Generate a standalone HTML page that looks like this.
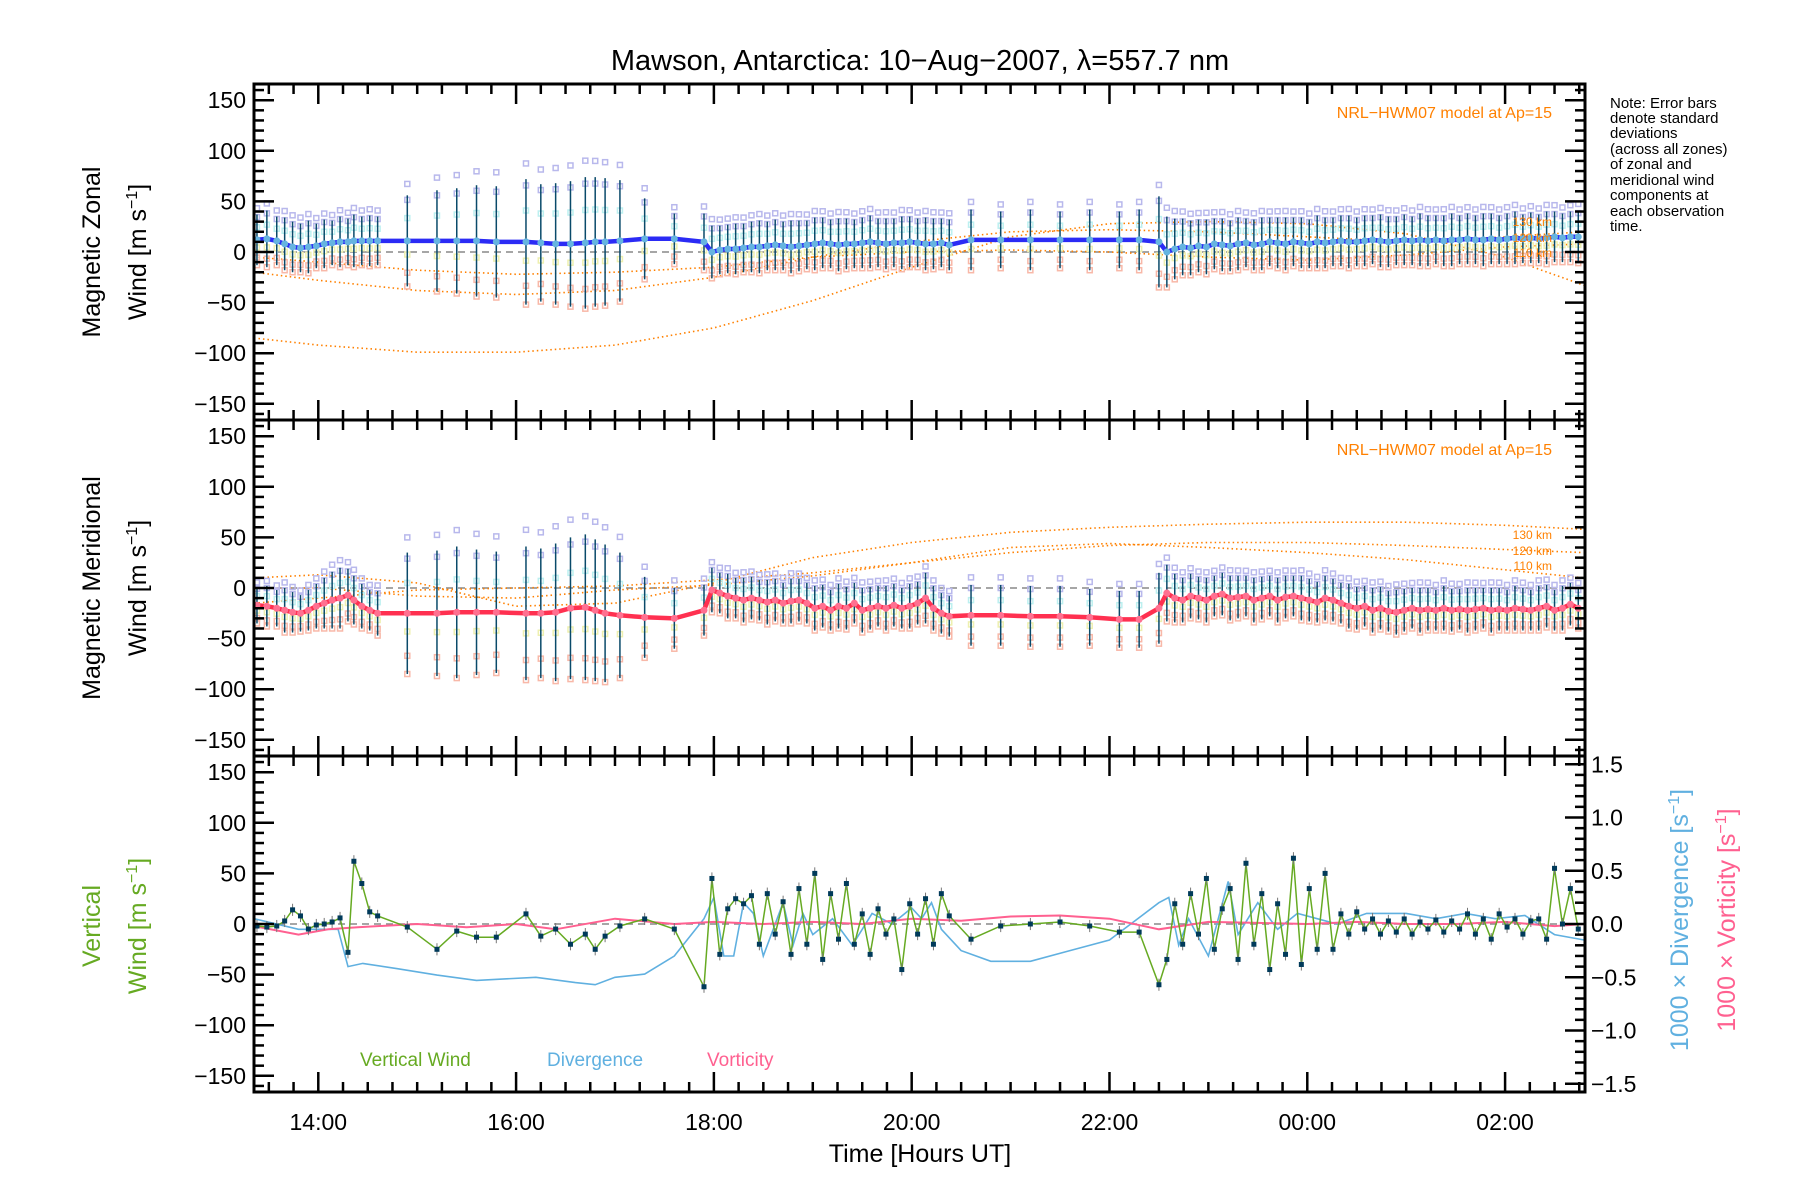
<!DOCTYPE html>
<html><head><meta charset="utf-8"><style>
html,body{margin:0;padding:0;background:#fff;}
svg{display:block;font-family:"Liberation Sans",sans-serif;}
</style></head><body>
<svg id="chart" width="1800" height="1200" viewBox="0 0 1800 1200">
<text x="920" y="70" font-size="29" text-anchor="middle">Mawson, Antarctica: 10−Aug−2007, λ=557.7 nm</text>
<g id="note" font-size="15">
<text x="1610" y="108">Note: Error bars</text><text x="1610" y="123">denote standard</text><text x="1610" y="138">deviations</text><text x="1610" y="154">(across all zones)</text><text x="1610" y="169">of zonal and</text><text x="1610" y="185">meridional wind</text><text x="1610" y="200">components at</text><text x="1610" y="216">each observation</text><text x="1610" y="231">time.</text>
</g>
</svg>
<script>
// ---------- data ----------
const times=[13.38,13.48,13.58,13.66,13.74,13.82,13.9,13.98,14.06,14.14,14.22,14.3,14.36,14.44,14.52,14.6,
14.9,15.2,15.4,15.6,15.8,16.1,16.25,16.4,16.55,16.7,16.8,16.9,17.05,17.3,17.6,
17.9,17.98,18.06,18.14,18.22,18.3,18.38,18.46,18.54,18.62,18.7,18.78,18.86,18.94,19.02,19.1,19.18,19.26,19.34,19.42,19.5,19.58,19.66,19.74,19.82,19.9,19.98,20.06,20.14,20.22,20.3,20.38,
20.6,20.9,21.2,21.5,21.8,22.1,22.3,
22.5,22.58,22.66,22.74,22.82,22.9,22.98,23.06,23.14,23.22,23.3,23.38,23.46,23.54,23.62,23.7,23.78,23.86,23.94,24.02,24.1,24.18,24.26,24.34,24.42,24.5,24.58,24.66,24.74,24.82,24.9,24.98,25.06,25.14,25.22,25.3,25.38,25.46,25.54,25.62,25.7,25.78,25.86,25.94,26.02,26.1,26.18,26.26,26.34,26.42,26.5,26.58,26.66,26.74];
const zonal=[12,13,11,8,5,4,5,6,8,9,10,10,11,11,11,11,
11,11,11,11,10,10,9,8,8,9,10,10,11,13,13,
10,0,2,3,3,4,5,5,6,7,6,5,6,7,8,9,8,7,8,8,9,10,9,8,9,9,10,9,8,8,9,7,
12,12,12,12,12,12,12,
10,0,3,5,4,6,5,8,7,6,8,9,7,8,10,9,8,10,9,8,10,9,10,11,10,10,11,12,11,10,11,12,11,12,11,12,11,12,12,13,12,12,13,12,13,14,13,14,13,14,15,14,15,15];
const zonalErr=[25,28,24,26,25,24,26,22,24,22,25,23,26,24,25,24,
45,50,52,55,55,62,58,60,62,65,64,63,60,40,25,
28,26,24,24,25,24,25,26,24,25,24,26,25,24,26,25,24,26,25,24,25,26,24,25,24,26,25,24,26,25,24,25,
30,28,30,28,30,28,30,
45,35,30,28,27,26,27,25,26,25,26,24,25,26,24,25,26,24,25,24,26,25,24,25,26,24,25,24,26,25,24,25,24,26,25,24,25,26,24,25,24,26,25,24,25,26,24,25,24,26,25,24,25,26];
const merid=[-17,-18,-20,-22,-24,-25,-22,-18,-15,-12,-10,-7,-12,-18,-22,-25,
-25,-25,-24,-24,-24,-25,-25,-24,-20,-19,-22,-25,-27,-29,-30,
-22,-2,-5,-8,-10,-12,-10,-12,-14,-12,-15,-13,-12,-15,-20,-18,-22,-18,-20,-15,-22,-20,-18,-20,-17,-20,-18,-15,-10,-20,-25,-28,
-27,-27,-28,-28,-29,-31,-31,
-20,-5,-10,-12,-8,-10,-12,-8,-6,-10,-9,-8,-12,-10,-8,-12,-9,-8,-10,-12,-14,-10,-12,-15,-18,-20,-18,-22,-20,-23,-24,-22,-20,-22,-21,-22,-20,-22,-21,-22,-21,-20,-22,-21,-22,-20,-21,-22,-20,-18,-22,-20,-16,-20];
const meridErr=[18,20,18,22,20,18,20,22,25,28,30,26,24,22,20,22,
60,62,65,62,60,66,64,68,70,72,70,68,62,40,30,
25,22,20,22,20,22,21,20,22,21,20,22,21,20,22,21,20,22,21,20,22,21,20,22,21,20,22,21,25,22,20,20,
30,30,30,30,28,28,28,
35,28,24,22,22,21,22,20,21,22,21,20,22,21,20,22,21,20,22,21,20,22,21,20,22,21,20,22,21,20,22,21,20,22,21,20,22,21,20,22,21,20,22,21,20,22,21,20,22,21,20,22,21,20];
const vert=[-2,-3,-2,3,14,8,-5,-1,0,2,6,-28,62,40,12,8,
-3,-25,-7,-13,-13,10,-12,-5,-20,-10,-25,-12,-2,5,-5,
-62,45,-30,15,25,20,28,-20,30,-10,22,-30,35,-20,50,-35,30,-15,40,-20,10,-30,15,-10,5,-45,20,-10,25,-20,30,8,
-15,-2,0,2,-2,-8,-8,
-60,-35,20,-20,30,-10,45,-25,15,35,-35,60,-20,30,-45,20,-30,65,-40,35,-25,50,-25,10,-10,12,-5,5,-10,3,-8,5,-10,2,-5,4,-8,3,-5,10,-10,5,-15,10,-3,5,-10,3,5,-15,55,0,35,-5];
const divHours=[13.35,13.8,14.2,14.3,14.45,14.8,15.2,15.6,16.2,16.6,16.8,17.0,17.3,17.6,17.9,18.0,18.1,18.2,18.3,18.4,18.5,18.6,18.7,18.8,18.9,19.0,19.2,19.4,19.6,19.8,20.0,20.1,20.2,20.3,20.5,20.8,21.2,21.6,22.0,22.5,22.6,22.7,22.8,23.0,23.2,23.3,23.5,23.7,23.9,24.1,24.3,24.6,25.0,25.3,25.6,25.9,26.2,26.5,26.8];
const divergence=[0.05,-0.05,-0.05,-0.4,-0.37,-0.42,-0.48,-0.53,-0.5,-0.55,-0.57,-0.5,-0.47,-0.3,0.05,0.25,-0.3,-0.3,0.2,0.1,-0.3,-0.05,0.2,-0.2,0.1,-0.1,0.05,-0.2,0.1,0.0,0.15,0.05,0.2,-0.05,-0.25,-0.35,-0.35,-0.25,-0.15,0.2,0.25,-0.2,0.05,-0.3,0.4,-0.1,0.2,-0.05,0.1,0.05,0.0,0.1,0.1,0.05,0.1,0.05,0.08,-0.1,-0.15];
const vortHours=[13.35,13.8,14.1,14.4,15,15.5,16,16.4,17,17.6,18.0,18.5,19,19.5,20,20.5,21,21.5,22,22.5,23,23.5,24,24.5,25,25.5,26,26.5,26.8];
const vorticity=[-0.02,-0.1,-0.05,-0.03,0.0,-0.03,0.0,-0.05,0.05,0.0,0.02,0.0,0.02,0.0,0.05,0.03,0.07,0.08,0.05,-0.05,0.02,0.01,0.0,0.02,0.0,0.0,0.02,-0.02,0.0];
const modelHours=[13.35,14,15,16,17,18,19,20,21,22,23,24,25,26,26.8];
const zonal130=[-85,-92,-99,-99,-92,-75,-48,-15,15,28,30,28,18,-5,-33];
const zonal120=[-20,-28,-38,-42,-38,-25,-5,10,20,22,20,15,10,15,20];
const zonal110=[-5,-10,-18,-22,-20,-15,-5,0,2,0,-5,-8,-3,5,8];
const merid130=[10,13,5,-18,-15,5,30,45,55,60,63,65,65,62,58];
const merid120=[-15,-10,-2,0,2,8,15,25,35,42,45,45,42,38,35];
const merid110=[0,0,-8,-10,-2,3,12,25,40,44,40,35,28,18,10];
const yTicks=[-150,-100,-50,0,50,100,150];
const rTicks=[-1.5,-1.0,-0.5,0.0,0.5,1.0,1.5];
const xTickHours=[14,16,18,20,22,24,26];
const xTickLabels=["14:00","16:00","18:00","20:00","22:00","00:00","02:00"];

// ---------- geometry ----------
const L=254,R=1585,H0=13.35,PXH=98.9,PH=336,YS=1.012;
const panelTops=[84,420,756];
const svg=document.getElementById('chart');
const NS='http://www.w3.org/2000/svg';
function X(h){return L+(h-H0)*PXH;}
function Y(p,v){return panelTops[p]+PH/2-v*YS;}
function YR(v){return 924-v*106.5;}
function mk(tag,attrs,parent){const e=document.createElementNS(NS,tag);for(const k in attrs)e.setAttribute(k,attrs[k]);(parent||svg).appendChild(e);return e;}
function pathD(xs,ys){return xs.map((x,i)=>(i?'L':'M')+x.toFixed(1)+','+ys[i].toFixed(1)).join(' ');}

const defs=mk('defs',{});
panelTops.forEach((t,p)=>{const cp=mk('clipPath',{id:'clip'+p},defs);mk('rect',{x:L,y:t,width:R-L,height:PH},cp);});

function panelGroup(p,name){const g=mk('g',{'clip-path':'url(#clip'+p+')'});


return g;}

panelTops.forEach((t,p)=>{const z=mk('line',{x1:L,x2:R,y1:Y(p,0),y2:Y(p,0),stroke:'#888','stroke-width':1.5,'stroke-dasharray':'7,5'});


});

function windPanel(p,vals,errs,lineCol,dotCol,models,nameBase){
  const g=panelGroup(p,nameBase+'-series');
  models.forEach((m,k)=>{const c=mk('path',{d:pathD(modelHours.map(X),m.map(v=>Y(p,v))),fill:'none',stroke:'#ff8000','stroke-width':1.6,'stroke-dasharray':'1.5,3'},g);
  
  });
  const sc=[['#b8b8ec',1.25],['#b8b8ec',0.9],['#bdf0f0',0.5],['#eef0b0',-0.3],['#f8b8a8',-0.7],['#f8b8a8',-1.0]];
  times.forEach((h,i)=>{sc.forEach(s=>{const r=mk('rect',{x:X(h)-2.5,y:Y(p,vals[i]+errs[i]*s[1])-2.5,width:5,height:5,fill:'none',stroke:s[0],'stroke-width':1.5},g);
  
  });});
  times.forEach((h,i)=>{const b=mk('line',{x1:X(h),x2:X(h),y1:Y(p,vals[i]+errs[i]),y2:Y(p,vals[i]-errs[i]),stroke:'#0a4a6a','stroke-width':1.5},g);
  
  });
  const ln=mk('path',{d:pathD(times.map(X),vals.map(v=>Y(p,v))),fill:'none',stroke:lineCol,'stroke-width':4.5},g);
  
  
  times.forEach((h,i)=>{const d=mk('circle',{cx:X(h),cy:Y(p,vals[i]),r:3.5,fill:dotCol},g);
  
  });
}
windPanel(0,zonal,zonalErr,'#2b2bf5','#66b4e0',[zonal130,zonal120,zonal110],'zonal-wind');
windPanel(1,merid,meridErr,'#ff3050','#ff7090',[merid130,merid120,merid110],'meridional-wind');

const g3=panelGroup(2,'vertical-panel-series');
const dv=mk('path',{d:pathD(divHours.map(X),divergence.map(YR)),fill:'none',stroke:'#60b0e0','stroke-width':1.6},g3);


const vo=mk('path',{d:pathD(vortHours.map(X),vorticity.map(YR)),fill:'none',stroke:'#ff6090','stroke-width':2},g3);


const vw=mk('path',{d:pathD(times.map(X),vert.map(v=>Y(2,v))),fill:'none',stroke:'#66aa22','stroke-width':1.5},g3);


times.forEach((h,i)=>{
  const e=mk('line',{x1:X(h),x2:X(h),y1:Y(2,vert[i]+6),y2:Y(2,vert[i]-6),stroke:'#777','stroke-width':1},g3);
  
  
  const m=mk('rect',{x:X(h)-2.5,y:Y(2,vert[i])-2.5,width:5,height:5,fill:'#003a5a'},g3);
  
  
});

panelTops.forEach((t,p)=>{
  const ax=mk('g',{stroke:'#000'});
  
  
  mk('rect',{x:L,y:t,width:R-L,height:PH,fill:'none','stroke-width':3},ax);
  for(let v=-160;v<=160;v+=10){if(Y(p,v)<t||Y(p,v)>t+PH)continue;const maj=v%50===0;const len=maj?20:10;
    mk('line',{x1:L,x2:L+len,y1:Y(p,v),y2:Y(p,v),'stroke-width':2.5},ax);
    if(p<2)mk('line',{x1:R,x2:R-len,y1:Y(p,v),y2:Y(p,v),'stroke-width':2.5},ax);}
  for(let h=13.5;h<=26.8;h+=0.25){const maj=Math.abs(h-Math.round(h))<1e-6&&Math.round(h)%2===0;const len=maj?20:10;
    mk('line',{x1:X(h),x2:X(h),y1:t,y2:t+len,'stroke-width':2.5},ax);
    mk('line',{x1:X(h),x2:X(h),y1:t+PH,y2:t+PH-len,'stroke-width':2.5},ax);}
  yTicks.forEach(v=>{const tx=mk('text',{x:L-8,y:Y(p,v)+8,'font-size':23,'text-anchor':'end',stroke:'none'});
  tx.textContent=(v<0?'−':'')+Math.abs(v);
  
  });
});
const ra=mk('g',{stroke:'#000'});


for(let k=-15;k<=15;k++){const v=k/10;const maj=k%5===0;mk('line',{x1:R,x2:R-(maj?20:10),y1:YR(v),y2:YR(v),'stroke-width':2.5},ra);}
rTicks.forEach(v=>{const tx=mk('text',{x:R+6,y:YR(v)+8,'font-size':23,stroke:'none'});
tx.textContent=(v<0?'−':'')+Math.abs(v).toFixed(1);

});
xTickHours.forEach((h,i)=>{const tx=mk('text',{x:X(h),y:1130,'font-size':23,'text-anchor':'middle'});
tx.textContent=xTickLabels[i];

});
</script>
<svg style="position:absolute;left:0;top:0" width="1800" height="1200">
<g font-family="Liberation Sans, sans-serif">
<text x="920" y="1162" font-size="25" text-anchor="middle">Time [Hours UT]</text>
<text transform="translate(100,252) rotate(-90)" font-size="25" text-anchor="middle">Magnetic Zonal</text>
<text transform="translate(146,252) rotate(-90)" font-size="25" text-anchor="middle">Wind [m s<tspan dy="-9" font-size="16">−1</tspan><tspan dy="9">]</tspan></text>
<text transform="translate(100,588) rotate(-90)" font-size="25" text-anchor="middle">Magnetic Meridional</text>
<text transform="translate(146,588) rotate(-90)" font-size="25" text-anchor="middle">Wind [m s<tspan dy="-9" font-size="16">−1</tspan><tspan dy="9">]</tspan></text>
<text transform="translate(100,926) rotate(-90)" font-size="25" text-anchor="middle" fill="#66aa22">Vertical</text>
<text transform="translate(146,926) rotate(-90)" font-size="25" text-anchor="middle" fill="#66aa22">Wind [m s<tspan dy="-9" font-size="16">−1</tspan><tspan dy="9">]</tspan></text>
<text transform="translate(1688,920) rotate(-90)" font-size="25" text-anchor="middle" fill="#60b0e0">1000 × Divergence [s<tspan dy="-9" font-size="16">−1</tspan><tspan dy="9">]</tspan></text>
<text transform="translate(1735,920) rotate(-90)" font-size="25" text-anchor="middle" fill="#ff6090">1000 × Vorticity [s<tspan dy="-9" font-size="16">−1</tspan><tspan dy="9">]</tspan></text>
<text x="1552" y="118" font-size="16" text-anchor="end" fill="#ff8000">NRL−HWM07 model at Ap=15</text>
<text x="1552" y="455" font-size="16" text-anchor="end" fill="#ff8000">NRL−HWM07 model at Ap=15</text>
<g font-size="12" fill="#ff8000" text-anchor="end">
<text x="1552" y="539">130 km</text><text x="1552" y="555">120 km</text><text x="1552" y="570">110 km</text>
<text x="1552" y="226">130 km</text><text x="1552" y="242">120 km</text><text x="1552" y="257">110 km</text>
</g>
<text x="360" y="1066" font-size="19" fill="#66aa22">Vertical Wind</text>
<text x="547" y="1066" font-size="19" fill="#60b0e0">Divergence</text>
<text x="707" y="1066" font-size="19" fill="#ff6090">Vorticity</text>
</g>
</svg>
</body></html>
